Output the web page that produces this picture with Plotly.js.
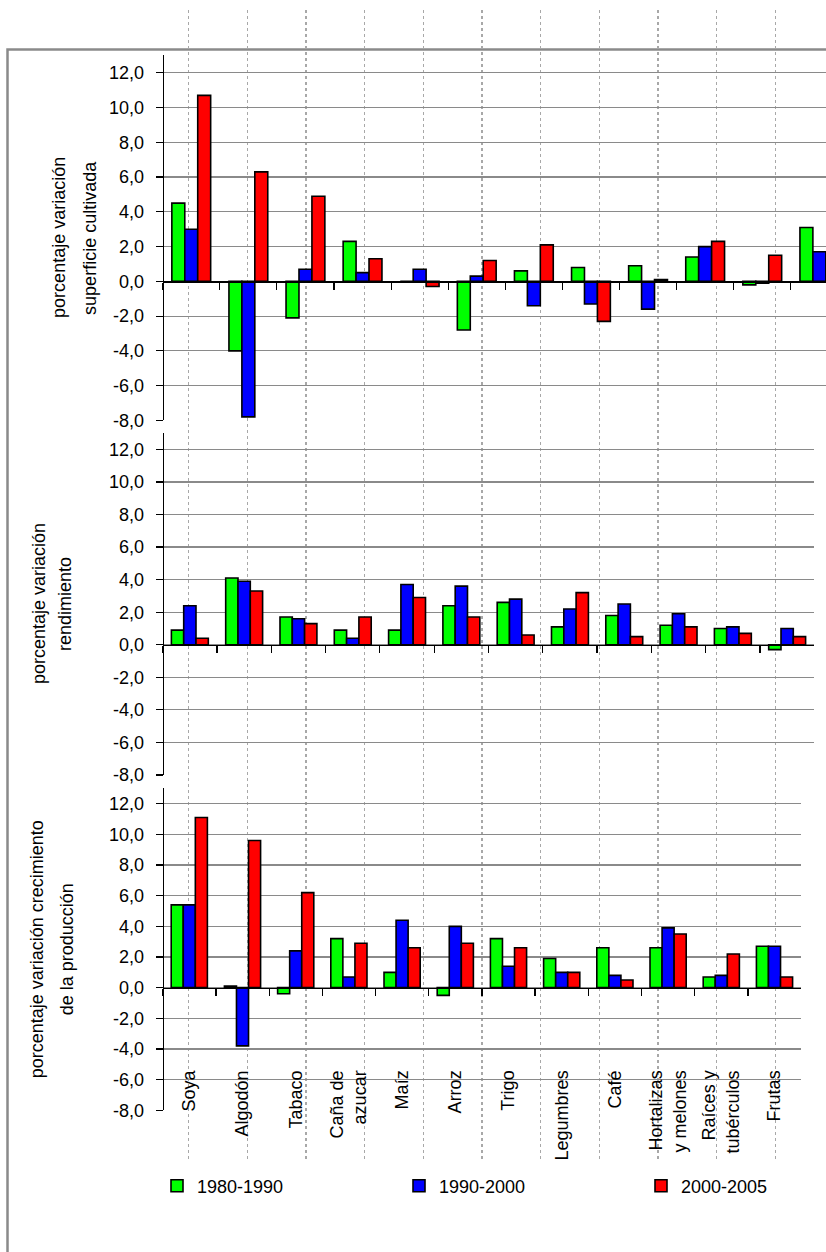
<!DOCTYPE html>
<html>
<head>
<meta charset="utf-8">
<script src="https://cdn.plot.ly/plotly-3.0.1.min.js"></script>
<style>html,body{margin:0;padding:0;background:#fff;}#chart{width:826px;height:1252px;}</style>
</head>
<body>
<div id="chart"></div>
<script>
// ---- data ----
const categories = ['Soya','Algodón','Tabaco','Caña de azucar','Maíz','Arroz','Trigo','Legumbres','Café','Hortalizas y melones','Raíces y tubérculos','Frutas'];
const categoryLabels = ['Soya','Algodón','Tabaco','Caña de<br>azucar','Maíz','Arroz','Trigo','Legumbres','Café','Hortalizas<br>y melones','Raíces y<br>tubérculos','Frutas'];
const seriesNames = ['1980-1990','1990-2000','2000-2005'];
const seriesColors = ['#00FF00','#0000FF','#FF0000'];

const superficie1980 = [4.5, -4.0, -2.1, 2.3, 0.0, -2.8, 0.6, 0.8, 0.9, 1.4, -0.2, 3.1];
const superficie1990 = [3.0, -7.8, 0.7, 0.5, 0.7, 0.3, -1.4, -1.3, -1.6, 2.0, -0.1, 1.7];
const superficie2000 = [10.7, 6.3, 4.9, 1.3, -0.3, 1.2, 2.1, -2.3, 0.1, 2.3, 1.5, 0.4];

const rendimiento1980 = [0.9, 4.1, 1.7, 0.9, 0.9, 2.4, 2.6, 1.1, 1.8, 1.2, 1.0, -0.3];
const rendimiento1990 = [2.4, 3.9, 1.6, 0.4, 3.7, 3.6, 2.8, 2.2, 2.5, 1.9, 1.1, 1.0];
const rendimiento2000 = [0.4, 3.3, 1.3, 1.7, 2.9, 1.7, 0.6, 3.2, 0.5, 1.1, 0.7, 0.5];

const produccion1980 = [5.4, 0.1, -0.4, 3.2, 1.0, -0.5, 3.2, 1.9, 2.6, 2.6, 0.7, 2.7];
const produccion1990 = [5.4, -3.8, 2.4, 0.7, 4.4, 4.0, 1.4, 1.0, 0.8, 3.9, 0.8, 2.7];
const produccion2000 = [11.1, 9.6, 6.2, 2.9, 2.6, 2.9, 2.6, 1.0, 0.5, 3.5, 2.2, 0.7];

const yTickValues = [-8, -6, -4, -2, 0, 2, 4, 6, 8, 10, 12];
const yTickLabels = ['-8,0','-6,0','-4,0','-2,0','0,0','2,0','4,0','6,0','8,0','10,0','12,0'];

const titleSuperficie = ['porcentaje variación', 'superficie cultivada'];
const titleRendimiento = ['porcentaje variación', 'rendimiento'];
const titleProduccion = ['porcentaje variación crecimiento', 'de la producción'];

// ---- layout helpers ----
const W = 826, H = 1252;
const FONT = "'Liberation Sans', Arial, sans-serif";
const FS = 18;
const fx = px => px / W;
const fy = py => 1 - py / H;
const Y_LO = -8, Y_HI = 13;

const panels = [
  {n: 2, series: [superficie1980, superficie1990, superficie2000], left: 162.7, right: 826, catW: 57.1, top: 55.4, bottom: 420.4, titles: titleSuperficie, tx: [59, 90], labels: false, legend: true},
  {n: 3, series: [rendimiento1980, rendimiento1990, rendimiento2000], left: 162.7, right: 814.3, catW: 54.3, top: 433.1, bottom: 775, titles: titleRendimiento, tx: [39, 65], labels: false, legend: false},
  {n: 4, series: [produccion1980, produccion1990, produccion2000], left: 162.7, right: 801, catW: 53.2, top: 788.4, bottom: 1110.3, titles: titleProduccion, tx: [37, 67], labels: true, legend: false}
];
const legendIds = ['legend', 'legend2', 'legend3'];
const legendLeftPx = [157, 399, 641];

const traces = [];
// empty trace to hold the background dotted-grid subplot
traces.push({type: 'scatter', x: [], y: [], xaxis: 'x', yaxis: 'y', showlegend: false, hoverinfo: 'skip'});

const layout = {
  width: W, height: H,
  margin: {l: 0, r: 0, t: 0, b: 0, pad: 0},
  paper_bgcolor: '#ffffff',
  plot_bgcolor: 'rgba(0,0,0,0)',
  font: {family: FONT, size: FS, color: '#000'},
  barmode: 'group', bargap: 0.32, bargroupgap: 0,
  showlegend: true,
  annotations: [],
  shapes: [
    {type: 'rect', xref: 'paper', yref: 'paper', x0: fx(7.5), y0: fy(49.5), x1: fx(850), y1: fy(1280),
     line: {color: '#8a8a8a', width: 2.5}, fillcolor: 'rgba(0,0,0,0)', layer: 'below'}
  ],
  // background dotted vertical lines
  xaxis: {domain: [0, 1], range: [-130 / 58.66, (W - 130) / 58.66], tickvals: [1,2,3,4,5,6,7,8,9,10,11],
          showticklabels: false, ticks: '', showline: false, zeroline: false,
          showgrid: true, gridcolor: '#a8a8a8', gridwidth: 1.3, griddash: 'dot', anchor: 'y', fixedrange: true},
  yaxis: {domain: [fy(1160), fy(10)], range: [0, 1], showgrid: false, showticklabels: false, ticks: '',
          showline: false, zeroline: false, anchor: 'x', fixedrange: true}
};
legendIds.forEach((id, i) => {
  layout[id] = {orientation: 'h', x: fx(legendLeftPx[i]), y: fy(1186), xanchor: 'left', yanchor: 'middle',
    font: {family: FONT, size: FS, color: '#000'}, bgcolor: 'rgba(0,0,0,0)',
    itemclick: false, itemdoubleclick: false};
});

panels.forEach(p => {
  const xa = 'x' + p.n, ya = 'y' + p.n;
  p.series.forEach((vals, i) => {
    traces.push({
      type: 'bar', x: categories, y: vals, name: seriesNames[i], xaxis: xa, yaxis: ya,
      legend: legendIds[i], legendgroup: seriesNames[i], showlegend: p.legend,
      marker: {color: seriesColors[i], line: {color: '#000', width: 1.6}},
      hoverinfo: 'x+y'
    });
  });
  const d0 = fy(p.bottom), d1 = fy(p.top);
  const zeroPos = d0 + (0 - Y_LO) / (Y_HI - Y_LO) * (d1 - d0);
  const xRangeHi = -0.5 + (p.right - p.left) / p.catW;
  layout['xaxis' + p.n] = {
    type: 'category', domain: [fx(p.left), Math.min(1, fx(p.right))], range: [-0.5, xRangeHi],
    anchor: 'free', position: zeroPos,
    tickson: 'boundaries', ticks: 'outside', ticklen: 7, tickwidth: 1.2, tickcolor: '#000',
    showline: true, linecolor: '#000', linewidth: 1.5, showgrid: false, zeroline: false,
    showticklabels: p.labels, tickangle: -90,
    tickmode: 'array', tickvals: categories, ticktext: categoryLabels,
    ticklabelstandoff: 74,
    tickfont: {family: FONT, size: FS, color: '#000'}, fixedrange: true
  };
  layout['yaxis' + p.n] = {
    domain: [d0, d1], range: [Y_LO, Y_HI], anchor: 'free', position: fx(p.left),
    tickmode: 'array', tickvals: yTickValues, ticktext: yTickLabels,
    ticks: 'outside', ticklen: 7, tickwidth: 1.2, tickcolor: '#000', ticklabelstandoff: 8,
    showline: true, linecolor: '#000', linewidth: 1.5,
    showgrid: true, gridcolor: '#8a8a8a', gridwidth: 1.2, zeroline: false,
    tickfont: {family: FONT, size: FS, color: '#000'}, fixedrange: true
  };
  const cy = fy((p.top + p.bottom) / 2);
  p.titles.forEach((t, k) => {
    layout.annotations.push({
      text: t, xref: 'paper', yref: 'paper', x: fx(p.tx[k]), y: cy,
      xanchor: 'center', yanchor: 'middle', textangle: -90, showarrow: false,
      font: {family: FONT, size: FS, color: '#000'}
    });
  });
});

Plotly.newPlot('chart', traces, layout, {displayModeBar: false, staticPlot: true});
</script>
</body>
</html>
